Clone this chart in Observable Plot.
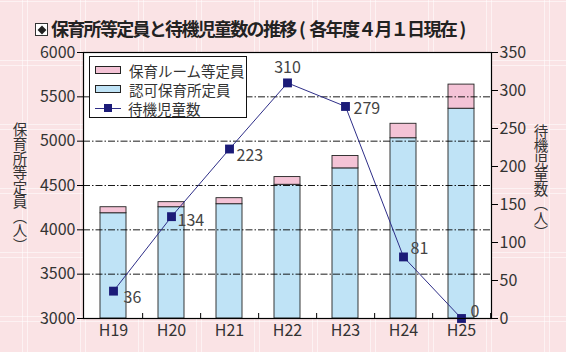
<!DOCTYPE html>
<html><head><meta charset="utf-8">
<script src="https://cdn.jsdelivr.net/npm/d3@7"></script>
<script src="https://cdn.jsdelivr.net/npm/@observablehq/plot@0.6"></script>
<style>
body{margin:0;}
#wrap{position:relative;width:566px;height:352px;overflow:hidden;font-family:"Noto Sans CJK JP","Noto Sans",sans-serif;
 background-color:#fae3e5;
 background-image:
  repeating-linear-gradient(90deg, transparent 0 22px, rgba(255,255,255,.55) 22px 23px, transparent 23px 27px, rgba(255,255,255,.55) 27px 28px, transparent 28px 58px),
  repeating-linear-gradient(0deg, transparent 0 30px, rgba(255,255,255,.55) 30px 31px, transparent 31px 35px, rgba(255,255,255,.55) 35px 36px, transparent 36px 64px);
}
#title{position:absolute;left:51px;top:15px;font-size:18px;font-weight:700;color:#222;white-space:nowrap;letter-spacing:-1.7px;}
#title .p{display:inline-block;margin:0 3.5px;letter-spacing:0;}
#mark{position:absolute;left:35px;top:23px;width:13px;height:13px;border:1px solid #333;box-sizing:border-box;background:#fff;}
#mark:after{content:"";position:absolute;left:1.5px;top:1.5px;width:8px;height:8px;background:#222;transform:scale(0.78) rotate(45deg);}
.vlab{position:absolute;writing-mode:vertical-rl;font-size:14.5px;color:#333;letter-spacing:0px;line-height:1;}
#legend{position:absolute;left:89px;top:56px;width:158px;height:62px;background:#fff;border:1px solid #111;box-sizing:border-box;font-size:14.5px;color:#333;}
#legend .row{position:absolute;left:5px;height:18px;display:flex;align-items:center;white-space:nowrap;}
#legend .sw{width:24px;height:6px;border:1px solid #222;margin-right:8px;}
#legend .ln{position:relative;width:26px;height:18px;margin-right:7px;}
#legend .ln:before{content:"";position:absolute;left:0;right:0;top:9px;height:1px;background:#2e2e88;}
#legend .ln:after{content:"";position:absolute;left:9px;top:5px;width:8px;height:8px;background:#1b1b78;}
#chart{position:absolute;left:0;top:0;}
</style></head><body>
<div id="wrap">
  <div id="chart"></div>
  <div id="mark"></div>
  <div id="title">保育所等定員と待機児童数の推移<span class="p">(</span>各年度４月１日現在<span class="p">)</span></div>
  <div class="vlab" style="left:12px;top:122px;">保育所等定員（人）</div>
  <div class="vlab" style="left:533px;top:124px;">待機児童数（人）</div>
  <div id="legend">
    <div class="row" style="top:4px;"><div class="sw" style="background:#f4c3d6"></div>保育ルーム等定員</div>
    <div class="row" style="top:23px;"><div class="sw" style="background:#bfe3f6"></div>認可保育所定員</div>
    <div class="row" style="top:42px;"><div class="ln"></div>待機児童数</div>
  </div>
</div>
<script>
const years = ["H19", "H20", "H21", "H22", "H23", "H24", "H25"];
const ninkaCapacity = [4187, 4255, 4289, 4508, 4693, 5033, 5366];
const roomCapacity = [68, 57, 68, 87, 140, 163, 272];
const waitingChildren = [36, 134, 223, 310, 279, 81, 0];
const leftTicks = [3000, 3500, 4000, 4500, 5000, 5500, 6000];
const rightTicks = [0, 50, 100, 150, 200, 250, 300, 350];
const gridTicks = [3500, 4000, 4500, 5000, 5500];

// label placement (layout only)
const labelOffsets = [[10, 7, "start"], [6, 4, "start"], [7, 7, "start"], [0, -15, "middle"], [8, 2, "start"], [7, -8, "start"], [9, -7, "start"]];

const data = years.map((y, i) => ({year: y, ninka: ninkaCapacity[i], total: ninkaCapacity[i] + roomCapacity[i], wait: waitingChildren[i]}));
const yR = d3.scaleLinear([0, 350], [3000, 6000]);

const W = 566, H = 352, mt = 52, mb = 34, ml = 83, mr = 75;
const step = (W - ml - mr) / years.length;

const labelMarks = data.map((d, i) => Plot.text([d], {
  x: "year", y: d => yR(d.wait), text: d => String(d.wait),
  dx: labelOffsets[i][0], dy: labelOffsets[i][1], textAnchor: labelOffsets[i][2],
  fontSize: 16, fill: "#444"
}));

const chart = Plot.plot({
  width: W, height: H,
  marginTop: mt, marginBottom: mb, marginLeft: ml, marginRight: mr,
  style: {fontFamily: '"Noto Sans CJK JP","Noto Sans",sans-serif', background: "transparent", color: "#333"},
  x: {domain: years, paddingInner: 0.55, paddingOuter: 0.275, label: null},
  y: {domain: [3000, 6000], label: null},
  marks: [
    Plot.frame({fill: "white", stroke: null}),
    Plot.barY(data, {x: "year", y1: 3000, y2: "ninka", fill: "#bfe3f6", stroke: "#222", strokeWidth: 0.9}),
    Plot.barY(data, {x: "year", y1: "ninka", y2: "total", fill: "#f4c3d6", stroke: "#222", strokeWidth: 0.9}),
    Plot.ruleY(gridTicks, {stroke: "#000", strokeWidth: 0.9, strokeDasharray: "7,2,1.5,2"}),
    Plot.ruleX(years, {x: d => d, dx: step / 2, stroke: "#000", strokeWidth: 1, insetTop: H - mt - mb - 5}),
    Plot.line(data, {x: "year", y: d => yR(d.wait), stroke: "#2e2e88", strokeWidth: 1}),
    Plot.dot(data, {x: "year", y: d => yR(d.wait), symbol: "square", r: 5, fill: "#1b1b78", stroke: null}),
    ...labelMarks,
    Plot.axisY(leftTicks, {anchor: "left", tickSize: 6, tickPadding: 2, fontSize: 16, label: null, stroke: "#000", tickFormat: d => String(d)}),
    Plot.axisY(rightTicks.map(v => yR(v)), {anchor: "right", tickSize: 6, tickPadding: 2, fontSize: 16, label: null, stroke: "#000", tickFormat: v => String(Math.round(yR.invert(v)))}),
    Plot.axisX({tickSize: 0, tickPadding: 6, fontSize: 16, label: null}),
    Plot.frame({stroke: "#000", strokeWidth: 1.2})
  ]
});
document.getElementById("chart").appendChild(chart);
</script>
</body></html>
